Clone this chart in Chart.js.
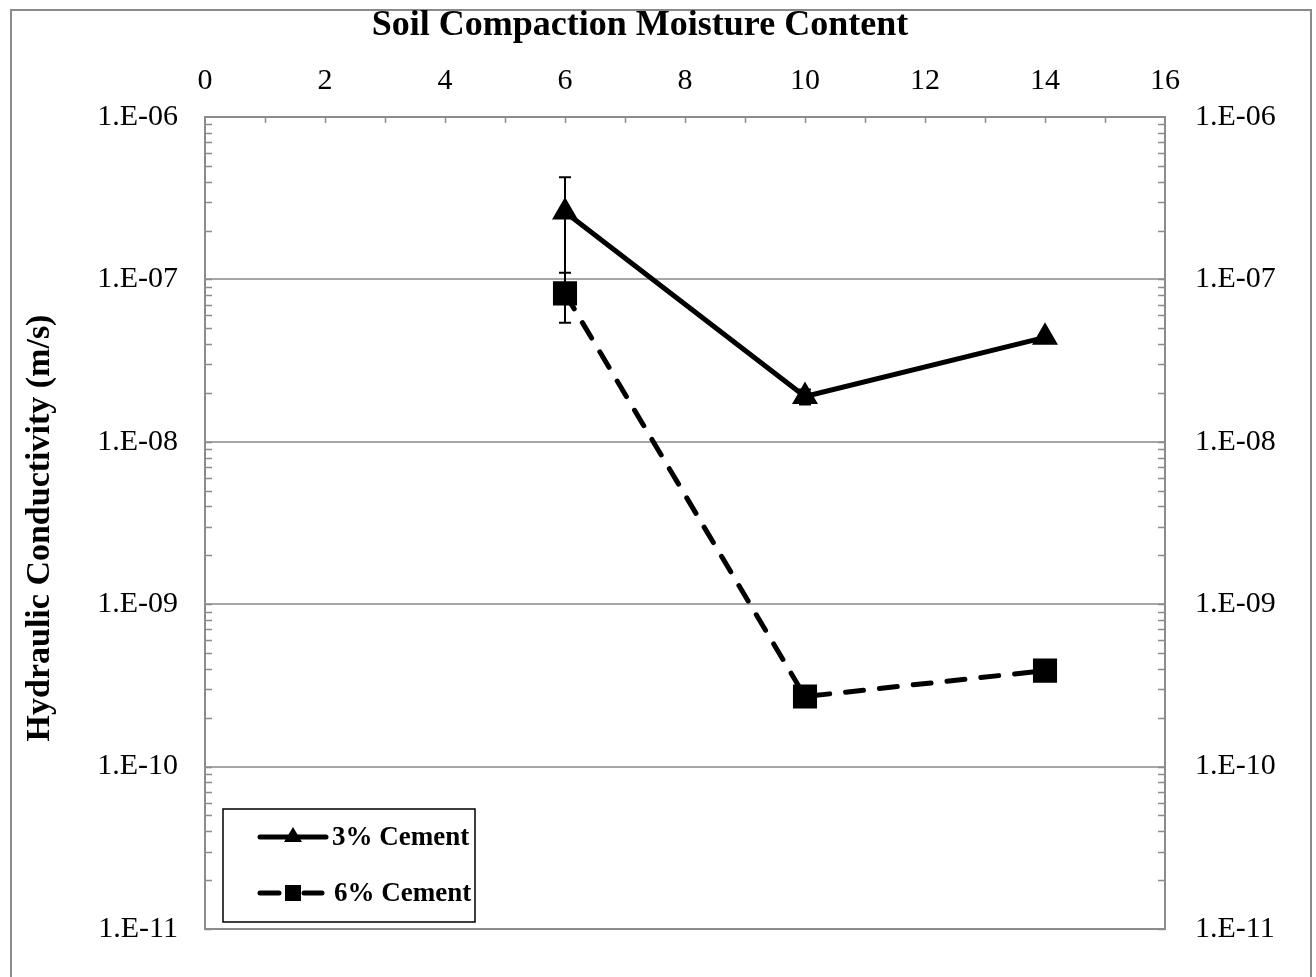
<!DOCTYPE html>
<html>
<head>
<meta charset="utf-8">
<script src="https://cdn.jsdelivr.net/npm/chart.js@4"></script>
<style>
  html, body { margin: 0; padding: 0; background: #fff; }
  #wrap { width: 1316px; height: 977px; }
</style>
</head>
<body>
<div id="wrap"><canvas id="myChart" width="1316" height="977"></canvas></div>
<script>
const moisture = [6, 10, 14];
const cement3 = [2.6e-7, 1.9e-8, 4.4e-8];
const cement6 = [8.2e-8, 2.7e-10, 3.9e-10];
const err3 = [1.65e-7, 0.2e-8, 0];
const err6 = [2.8e-8, 0, 0];
const seriesNames = ["3% Cement", "6% Cement"];
const xTicks = [0, 2, 4, 6, 8, 10, 12, 14, 16];
const yTicks = [1e-11, 1e-10, 1e-9, 1e-8, 1e-7, 1e-6];

const chartTitle = "Soil Compaction Moisture Content";
const yTitle = "Hydraulic Conductivity (m/s)";
const font = "'Liberation Serif', 'Times New Roman', serif";
const axisGray = "#8c8c8c";

function formatExp(v) {
  const e = Math.round(Math.log10(v));
  return "1.E-" + String(-e).padStart(2, "0");
}

function toPoints(xs, ys) {
  return xs.map((x, i) => ({ x: x, y: ys[i] }));
}

// error bars, tick marks, titles, legend and frame
const decorPlugin = {
  id: "decor",
  beforeDraw(chart) {
    const ctx = chart.ctx;
    ctx.save();
    ctx.fillStyle = "#fff";
    ctx.fillRect(0, 0, chart.width, chart.height);
    ctx.restore();
  },
  beforeDatasetsDraw(chart) {
    const ctx = chart.ctx;
    const xs = chart.scales.x;
    const ys = chart.scales.y;
    ctx.save();
    ctx.strokeStyle = "#000";
    ctx.lineWidth = 2;
    [[cement3, err3], [cement6, err6]].forEach(([vals, errs]) => {
      vals.forEach((v, i) => {
        if (!errs[i]) return;
        const px = xs.getPixelForValue(moisture[i]);
        const top = ys.getPixelForValue(v + errs[i]);
        const bot = ys.getPixelForValue(v - errs[i]);
        ctx.beginPath();
        ctx.moveTo(px, top); ctx.lineTo(px, bot);
        ctx.moveTo(px - 6, top); ctx.lineTo(px + 6, top);
        ctx.moveTo(px - 6, bot); ctx.lineTo(px + 6, bot);
        ctx.stroke();
      });
    });
    ctx.restore();
  },
  afterDraw(chart) {
    const ctx = chart.ctx;
    const area = chart.chartArea;
    const xs = chart.scales.x;
    const ys = chart.scales.y;
    ctx.save();

    // outer frame
    ctx.strokeStyle = "#8a8a8a";
    ctx.lineWidth = 2;
    ctx.beginPath();
    ctx.moveTo(11, chart.height);
    ctx.lineTo(11, 10);
    ctx.lineTo(1311, 10);
    ctx.lineTo(1311, chart.height);
    ctx.stroke();

    // bottom edge of plot
    ctx.strokeStyle = axisGray;
    ctx.beginPath();
    ctx.moveTo(area.left, area.bottom);
    ctx.lineTo(area.right, area.bottom);
    ctx.stroke();

    // inward tick marks on top axis
    ctx.lineWidth = 1.5;
    ctx.beginPath();
    for (let v = 1; v < 16; v++) {
      const px = Math.round(xs.getPixelForValue(v)) + 0.5;
      ctx.moveTo(px, area.top);
      ctx.lineTo(px, area.top + 6);
    }
    // log minor ticks on both side axes
    for (let d = -11; d < -6; d++) {
      for (let m = 1; m <= 9; m++) {
        const py = Math.round(ys.getPixelForValue(m * Math.pow(10, d))) + 0.5;
        ctx.moveTo(area.left, py); ctx.lineTo(area.left + 7, py);
        ctx.moveTo(area.right, py); ctx.lineTo(area.right - 7, py);
      }
    }
    ctx.stroke();

    // titles
    ctx.fillStyle = "#000";
    ctx.font = "bold 36px " + font;
    ctx.textAlign = "center";
    ctx.textBaseline = "alphabetic";
    ctx.fillText(chartTitle, 640, 35);
    ctx.font = "bold 34px " + font;
    ctx.textBaseline = "middle";
    ctx.save();
    ctx.translate(40, 528);
    ctx.rotate(-Math.PI / 2);
    ctx.fillText(yTitle, 0, 0);
    ctx.restore();

    // legend box
    const lx = 223, ly = 809, lw = 252, lh = 113;
    ctx.fillStyle = "#fff";
    ctx.fillRect(lx, ly, lw, lh);
    ctx.strokeStyle = "#000";
    ctx.lineWidth = 1.5;
    ctx.strokeRect(lx, ly, lw, lh);

    ctx.lineCap = "round";
    ctx.lineWidth = 5;
    ctx.strokeStyle = "#000";
    ctx.fillStyle = "#000";
    // 3% entry
    let y1 = 837;
    ctx.beginPath();
    ctx.moveTo(260, y1); ctx.lineTo(326, y1);
    ctx.stroke();
    ctx.beginPath();
    ctx.moveTo(293, y1 - 10); ctx.lineTo(302, y1 + 5); ctx.lineTo(284, y1 + 5);
    ctx.closePath();
    ctx.fill();
    // 6% entry
    let y2 = 893;
    ctx.beginPath();
    ctx.moveTo(260, y2); ctx.lineTo(279, y2);
    ctx.moveTo(304, y2); ctx.lineTo(322, y2);
    ctx.stroke();
    ctx.fillRect(285, y2 - 8, 16, 16);

    ctx.font = "bold 27px " + font;
    ctx.textAlign = "left";
    ctx.fillText(seriesNames[0], 332, y1 + 1);
    ctx.fillText(seriesNames[1], 334, y2 + 1);

    ctx.restore();
  }
};

new Chart(document.getElementById("myChart"), {
  type: "scatter",
  data: {
    datasets: [
      {
        label: seriesNames[0],
        data: toPoints(moisture, cement3),
        showLine: true,
        borderColor: "#000",
        backgroundColor: "#000",
        borderWidth: 5,
        pointStyle: "triangle",
        pointRadius: 10,
        pointHoverRadius: 10
      },
      {
        label: seriesNames[1],
        data: toPoints(moisture, cement6),
        showLine: true,
        borderColor: "#000",
        backgroundColor: "#000",
        borderWidth: 5,
        borderDash: [18, 16],
        borderCapStyle: "round",
        pointStyle: "rect",
        pointRadius: 13.5,
        pointHoverRadius: 13.5
      }
    ]
  },
  options: {
    responsive: false,
    animation: false,
    layout: { padding: { left: 0, right: 0, top: 0, bottom: 47 } },
    plugins: {
      legend: { display: false },
      title: { display: false },
      tooltip: { enabled: false }
    },
    scales: {
      x: {
        type: "linear",
        position: "top",
        min: 0,
        max: 16,
        afterBuildTicks: (scale) => { scale.ticks = xTicks.map(v => ({ value: v })); },
        afterFit: (scale) => { scale.height = 117; },
        ticks: {
          color: "#000",
          padding: 18,
          maxRotation: 0,
          font: { family: font, size: 30 }
        },
        grid: { drawOnChartArea: false, drawTicks: false },
        border: { display: true, color: axisGray, width: 2 }
      },
      y: {
        type: "logarithmic",
        position: "left",
        min: 1e-11,
        max: 1e-6,
        afterBuildTicks: (scale) => { scale.ticks = yTicks.map(v => ({ value: v })); },
        afterFit: (scale) => { scale.width = 205; },
        ticks: {
          color: "#000",
          padding: 27,
          autoSkip: false,
          font: { family: font, size: 30 },
          callback: (v) => formatExp(v)
        },
        grid: { color: "#a6a6a6", lineWidth: 2, drawTicks: false },
        border: { display: true, color: axisGray, width: 2 }
      },
      y2: {
        type: "logarithmic",
        position: "right",
        min: 1e-11,
        max: 1e-6,
        afterBuildTicks: (scale) => { scale.ticks = yTicks.map(v => ({ value: v })); },
        afterFit: (scale) => { scale.width = 151; },
        ticks: {
          color: "#000",
          padding: 30,
          autoSkip: false,
          font: { family: font, size: 30 },
          callback: (v) => formatExp(v)
        },
        grid: { drawOnChartArea: false, drawTicks: false },
        border: { display: true, color: axisGray, width: 2 }
      }
    }
  },
  plugins: [decorPlugin]
});
</script>
</body>
</html>
